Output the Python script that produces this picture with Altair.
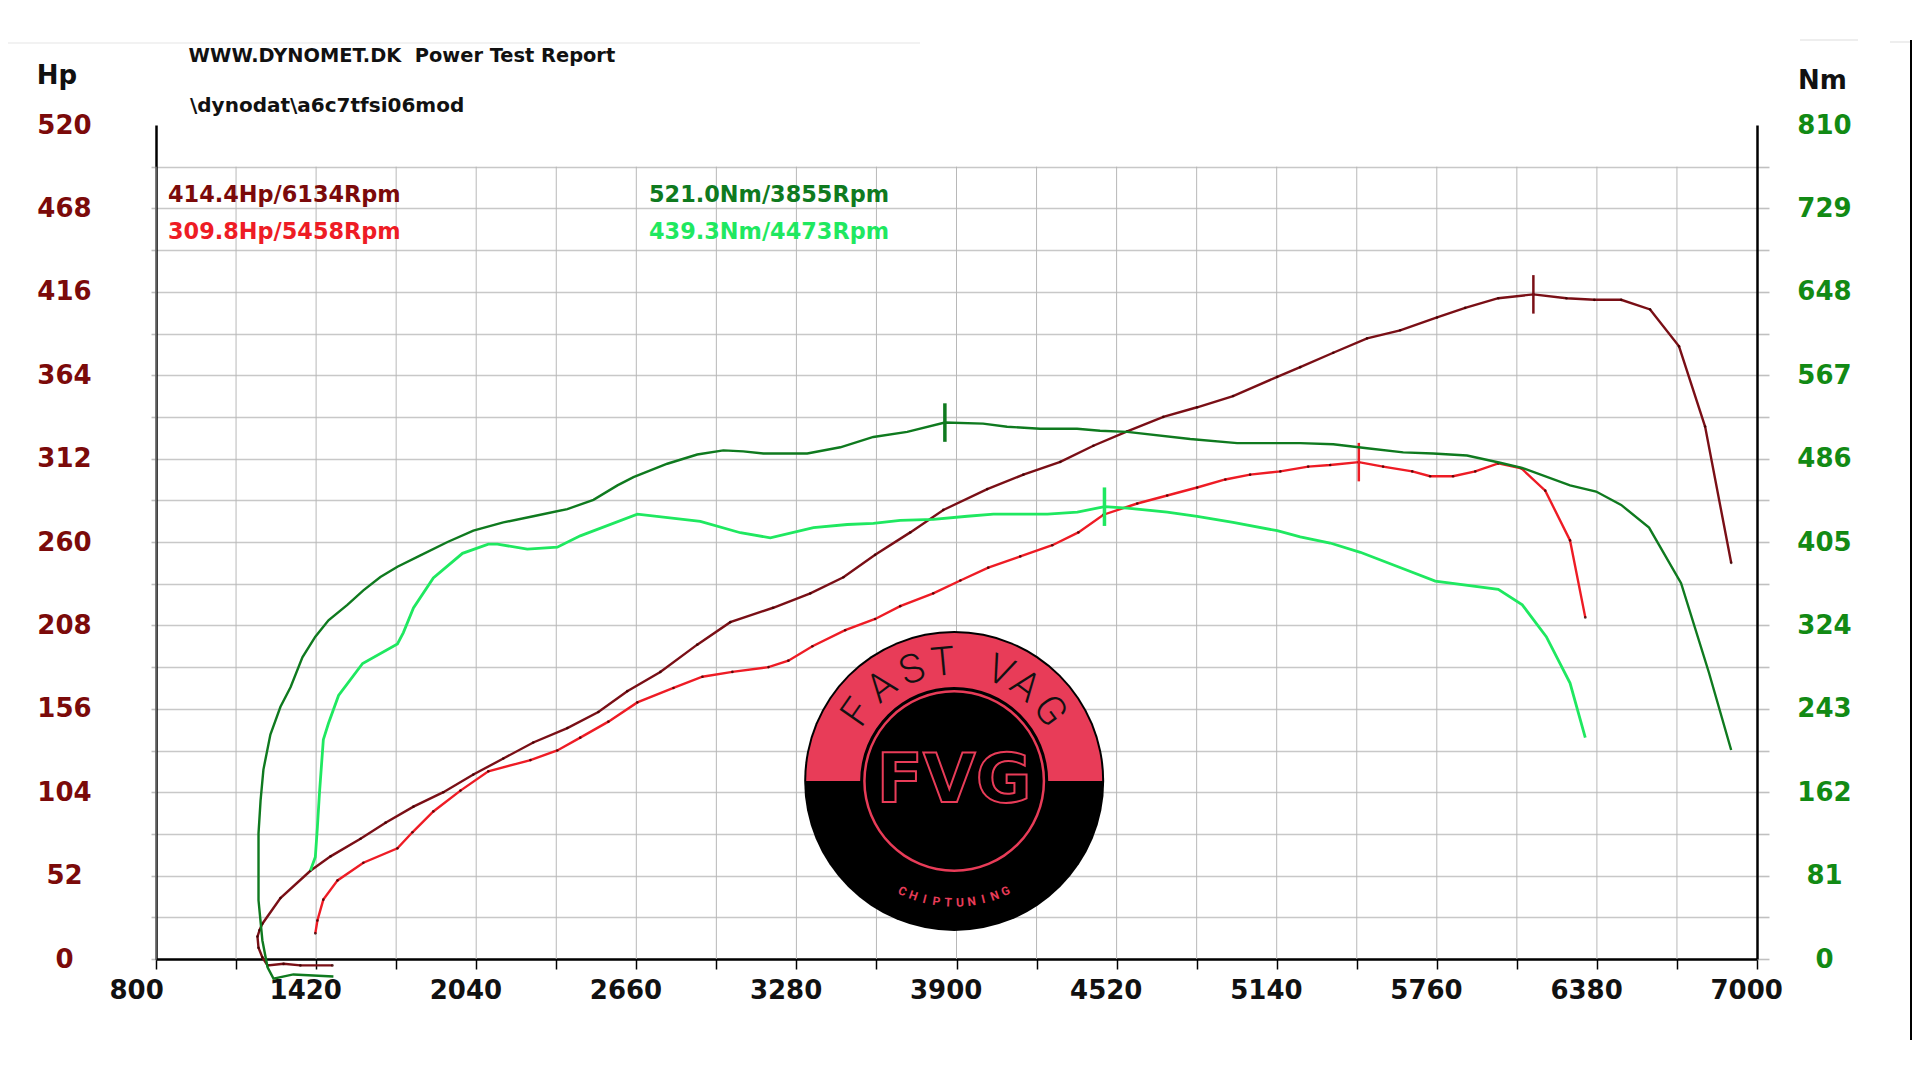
import math
import altair as alt
import pandas as pd

# ---- data ----
rpm_dark_green = [1487,1332,1255,1232,1212,1197,1197,1205,1216,1243,1282,1321,1367,1417,1468,1541,1603,1669,1735,1824,1929,2029,2145,2261,2393,2494,2587,2649,2780,2896,2997,3074,3152,3322,3450,3578,3709,3855,4003,4096,4224,4367,4456,4561,4805,4987,5231,5359,5490,5630,5746,5877,6005,6090,6276,6377,6474,6582,6706,6814,6900]
nm_dark_green = [-17,-15,-19,-8,18,57,122,154,184,218,245,264,293,313,329,344,358,371,381,392,405,416,424,430,437,446,460,468,481,490,494,493,491,491,497,507,512,521,520,517,515,515,513,512,505,501,501,500,496,492,491,489,482,477,460,454,441,419,365,278,203]

rpm_light_green = [1398,1417,1425,1433,1448,1468,1507,1600,1735,1758,1797,1874,1987,2087,2122,2238,2354,2443,2664,2908,3063,3179,3346,3477,3578,3682,3810,3942,4043,4252,4368,4473,4561,4716,4832,4971,5142,5231,5347,5464,5630,5754,5998,6091,6184,6276,6335]
nm_light_green = [86,99,128,161,213,229,256,287,306,317,341,370,394,403,403,398,400,411,432,425,414,409,419,422,423,426,427,430,432,432,434,439.3,438,434,430,424,416,410,404,395,379,367,359,344,313,268,215]

rpm_dark_red = [1483,1359,1294,1232,1212,1197,1193,1201,1212,1282,1398,1476,1592,1689,1797,1913,2029,2145,2261,2393,2513,2625,2753,2896,3024,3190,3334,3462,3585,3721,3849,4019,4159,4302,4430,4561,4701,4832,4971,5142,5231,5359,5490,5618,5761,5870,5998,6134,6262,6370,6474,6586,6698,6799,6900]
hp_dark_red = [-4,-4,-3,-4,1,7,14,18,22,38,55,64,75,85,95,104,115,125,135,144,154,167,179,196,210,219,228,238,252,266,280,293,302,310,320,329,338,344,351,363,369,378,387,392,400,406,412,414.4,412,411,411,405,382,332,247]

rpm_red = [1417,1425,1448,1503,1603,1735,1793,1874,1979,2087,2250,2354,2443,2552,2664,2804,2916,3032,3172,3249,3342,3469,3585,3682,3810,3915,4023,4147,4271,4372,4469,4600,4716,4832,4941,5037,5154,5262,5347,5458,5552,5665,5734,5823,5909,5998,6087,6180,6276,6335]
hp_red = [16,24,37,49,60,69,79,92,105,117,124,130,138,148,160,169,176,179,182,186,195,205,212,220,228,236,244,251,258,266,277,284,289,294,299,302,304,307,308,309.8,307,304,301,301,304,309,306,292,261,213]

peak_rows = [
    ("hp", 6134, 414.4, "#7a0f16", 2.5),
    ("hp", 5458, 309.8, "#ee1c25", 2.5),
    ("nm", 3855, 521.0, "#0f7a1f", 3.5),
    ("nm", 4473, 439.3, "#1fe860", 3.5),
]
PEAK_HALF_HP = 12
PEAK_HALF_NM = 18.7

rpm_ticks = list(range(800, 7001, 310))
rpm_grid = rpm_ticks[:-1]
hp_ticks = [26 * i for i in range(21)]
nm_ticks = [40.5 * i for i in range(21)]
HP_GRID_TOP = 494

logo_rpm = [3891]
logo_hp = [111]

C_DARK_RED = "#7a0f16"
C_RED = "#ee1c25"
C_DARK_GREEN = "#0f7a1f"
C_LIGHT_GREEN = "#1fe860"
C_MAROON = "#7b0a0a"
C_GREEN = "#128a14"
C_LOGO = "#e83c58"
FONT = "DejaVu Sans"
ORIGIN_X, ORIGIN_Y = 156, 125

x_scale = alt.Scale(domain=[800, 7000], nice=False, zero=False)
hp_scale = alt.Scale(domain=[0, 520], nice=False, zero=False)
nm_scale = alt.Scale(domain=[0, 810], nice=False, zero=False)

x_axis = alt.Axis(
    values=rpm_ticks, title=None, grid=False, domainColor="black", domainWidth=2.5,
    tickColor="black", tickWidth=1.5, tickSize=10,
    labelExpr="(datum.value-800)%620==0?format(datum.value,'d'):''",
    labelAlign="left", labelOffset=-47, labelPadding=8, labelFont=FONT,
    labelFontSize=26, labelFontWeight="bold", labelColor="#111111",
    labelBound=False, labelFlush=False, labelOverlap=False,
)
hp_axis = alt.Axis(
    values=hp_ticks, title=None, orient="left", grid=True, gridColor="#c8c8c8", gridWidth=1.6,
    gridOpacity={"condition": {"test": "datum.value>=500", "value": 0}, "value": 1},
    tickOpacity={"condition": {"test": "datum.value>=500", "value": 0}, "value": 1},
    domainColor="black", domainWidth=2.5, tickColor="#c0c0c0", tickWidth=1.6, tickSize=5,
    labelExpr="datum.value%52==0?format(datum.value,'d'):''",
    labelAlign="center", labelBaseline="middle", labelPadding=87, labelFont=FONT,
    labelFontSize=26, labelFontWeight="bold", labelColor=C_MAROON,
    labelBound=False, labelFlush=False, labelOverlap=False,
)
nm_axis = alt.Axis(
    values=nm_ticks, title=None, orient="right", grid=False,
    tickOpacity={"condition": {"test": "datum.value>=800", "value": 0}, "value": 1},
    domainColor="black", domainWidth=2.5, tickColor="#c0c0c0", tickWidth=1.6, tickSize=12,
    labelExpr="datum.value%81==0?format(datum.value,'d'):''",
    labelAlign="center", labelBaseline="middle", labelPadding=55, labelFont=FONT,
    labelFontSize=26, labelFontWeight="bold", labelColor=C_GREEN,
    labelBound=False, labelFlush=False, labelOverlap=False,
)


def X():
    return alt.X("rpm:Q", scale=x_scale, axis=x_axis)


def Yhp(field="hp"):
    return alt.Y(f"{field}:Q", scale=hp_scale, axis=hp_axis)


def Ynm(field="nm"):
    return alt.Y(f"{field}:Q", scale=nm_scale, axis=nm_axis)


def curve(rpm, val, field, color, width, dots=False):
    df = pd.DataFrame({"rpm": rpm, field: val, "i": range(len(rpm))})
    y = Yhp() if field == "hp" else Ynm()
    line = alt.Chart(df).mark_line(color=color, strokeWidth=width).encode(
        x=X(), y=y, order="i:Q")
    if not dots:
        return [line]
    pts = alt.Chart(df).mark_circle(size=7, color="#3a0000", opacity=0.8).encode(x=X(), y=y)
    return [line, pts]


def text(s, px, py, size, color, align="left", weight="bold", font=FONT, angle=None, **kw):
    opts = dict(font=font, fontSize=size, fontWeight=weight, align=align, baseline="middle", **kw)
    if color is not None:
        opts["color"] = color
    if angle is not None:
        opts["angle"] = angle % 360
    return alt.Chart(pd.DataFrame({"t": [s]})).mark_text(**opts).encode(
        x=alt.value(px - ORIGIN_X), y=alt.value(py - ORIGIN_Y), text="t:N")


def page_rule(x1, y1, x2, y2, color, width):
    return alt.Chart(pd.DataFrame({"a": [0]})).mark_rule(color=color, strokeWidth=width).encode(
        x=alt.value(x1 - ORIGIN_X), x2=alt.value(x2 - ORIGIN_X),
        y=alt.value(y1 - ORIGIN_Y), y2=alt.value(y2 - ORIGIN_Y))


# grid (vertical rules stop below the top of the axis line)
grid_df = pd.DataFrame({"rpm": rpm_grid, "lo": 0, "hi": HP_GRID_TOP})
grid = alt.Chart(grid_df).mark_rule(color="#b8b8b8", strokeWidth=1).encode(
    x=X(), y=Yhp("lo"), y2="hi:Q")

hp_layers = [grid]
hp_layers += curve(rpm_dark_red, hp_dark_red, "hp", C_DARK_RED, 2.4, True)
hp_layers += curve(rpm_red, hp_red, "hp", C_RED, 2.4, True)
nm_layers = []
nm_layers += curve(rpm_dark_green, nm_dark_green, "nm", C_DARK_GREEN, 2.4)
nm_layers += curve(rpm_light_green, nm_light_green, "nm", C_LIGHT_GREEN, 2.8)

for kind, r, v, col, w in peak_rows:
    half = PEAK_HALF_HP if kind == "hp" else PEAK_HALF_NM
    df = pd.DataFrame({"rpm": [r], "lo": [v - half], "hi": [v + half]})
    rule = alt.Chart(df).mark_rule(color=col, strokeWidth=w).encode(
        x=X(), y=Yhp("lo") if kind == "hp" else Ynm("lo"), y2="hi:Q")
    (hp_layers if kind == "hp" else nm_layers).append(rule)

# logo
logo_df = pd.DataFrame({"rpm": logo_rpm, "hp": logo_hp})


def arc(radius, theta, theta2, color, radius2=None):
    opts = dict(radius=radius, theta=theta, theta2=theta2, color=color)
    if radius2 is not None:
        opts["radius2"] = radius2
    return alt.Chart(logo_df).mark_arc(**opts).encode(x=X(), y=Yhp())


TAU = 2 * math.pi
hp_layers += [
    arc(150, 0, TAU, "#000000"),
    arc(148, 0.75 * TAU, 1.25 * TAU, C_LOGO),
    arc(94, 0, TAU, "#000000"),
    arc(91, 0, TAU, C_LOGO, 88.5),
]

CX, CY = 954, 780.7
decor = []
for ch, a in zip("FASTVAG", [-55, -37.6, -20.6, -5.4, 23, 37, 54]):
    r = 118
    decor.append(text(ch, CX + r * math.sin(math.radians(a)), CY - r * math.cos(math.radians(a)),
                      40, "#111111", align="center", weight=300, font="Roboto", angle=a))
for k, ch in enumerate("CHIPTUNING"):
    a = 25 - k * 50 / 9
    r = 122
    decor.append(text(ch, CX - r * math.sin(math.radians(a)), CY + r * math.cos(math.radians(a)),
                      12, C_LOGO, align="center", font="Roboto", angle=a))
decor.append(alt.Chart(pd.DataFrame({"t": ["FVG"]})).mark_text(
    font=FONT, fontSize=68, fontWeight="bold", align="center", baseline="middle",
    fill="#000000", stroke=C_LOGO, strokeWidth=2,
).encode(x=alt.value(CX - ORIGIN_X), y=alt.value(CY + 1 - ORIGIN_Y), text="t:N"))

# texts
decor += [
    text("WWW.DYNOMET.DK \u00a0Power Test Report", 188.6, 56, 19.4, "#111111"),
    text("\\dynodat\\a6c7tfsi06mod", 190, 106, 20, "#111111"),
    text("Hp", 36.7, 76, 26, "#111111"),
    text("Nm", 1798, 81, 26, "#111111"),
    text("414.4Hp/6134Rpm", 168, 194.7, 22.4, C_MAROON),
    text("309.8Hp/5458Rpm", 168, 231.7, 22.4, C_RED),
    text("521.0Nm/3855Rpm", 649, 194.7, 22.4, C_DARK_GREEN),
    text("439.3Nm/4473Rpm", 649, 231.7, 22.4, C_LIGHT_GREEN),
    page_rule(1911, 40, 1911, 1040, "#000000", 2),
    page_rule(0, 43, 920, 43, "#eeeeee", 1.5),
    page_rule(1800, 40, 1858, 40, "#e8e8e8", 1.5),
    page_rule(1890, 42, 1910, 42, "#e8e8e8", 1.5),
]

hp_group = alt.layer(*hp_layers)
nm_group = alt.layer(*nm_layers)

chart = alt.layer(hp_group, nm_group, *decor).resolve_scale(y="independent").properties(
    width=1601,
    height=834,
    padding={"left": 148, "top": 117, "right": 155, "bottom": 105},
    autosize=alt.AutoSizeParams(type="none"),
    background="white",
).configure_view(stroke=None)

chart.save("out.html", embed_options={"renderer": "svg", "actions": False})
